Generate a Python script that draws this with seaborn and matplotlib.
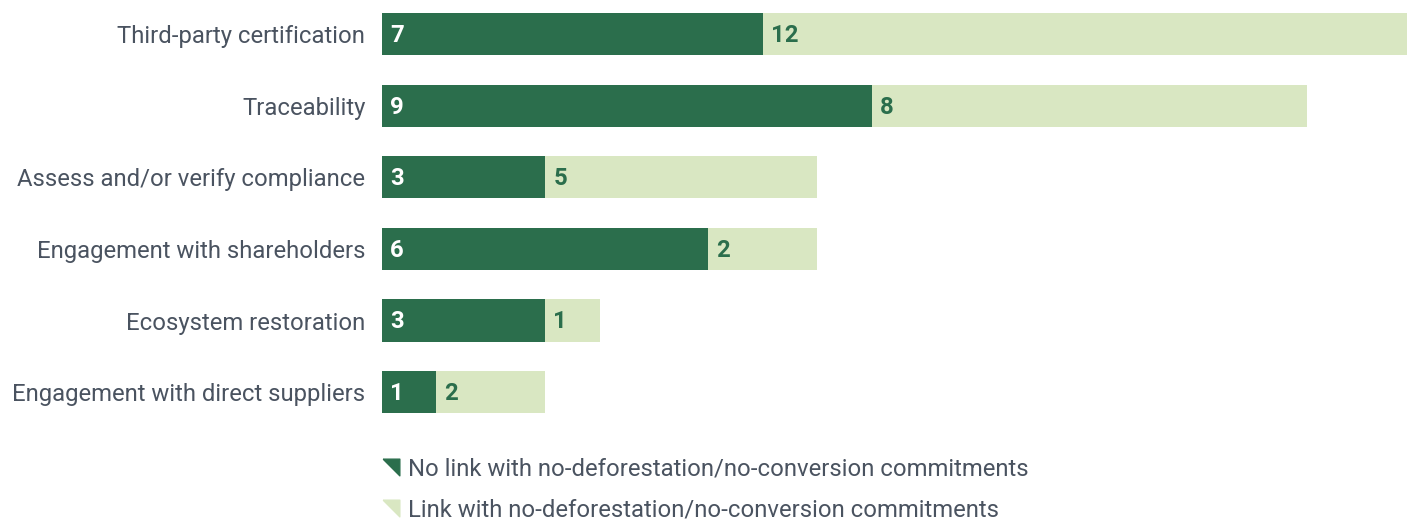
import matplotlib
matplotlib.use("Agg")
import matplotlib.pyplot as plt
from matplotlib.lines import Line2D
import seaborn as sns
import pandas as pd

# data
categories = [
    "Third-party certification",
    "Traceability",
    "Assess and/or verify compliance",
    "Engagement with shareholders",
    "Ecosystem restoration",
    "Engagement with direct suppliers",
]
no_link = [7, 9, 3, 6, 3, 1]
link = [12, 8, 5, 2, 1, 2]
series_names = [
    "No link with no-deforestation/no-conversion commitments",
    "Link with no-deforestation/no-conversion commitments",
]

DARK = "#2b6e4c"
LIGHT = "#d9e7c2"
TEXT = "#4a5360"
FS = 17.2

df = pd.DataFrame({"category": categories, "no_link": no_link, "link": link})
df["total"] = df["no_link"] + df["link"]

sns.set_theme(style="white")
plt.rcParams["font.family"] = ["Roboto", "DejaVu Sans"]

fig = plt.figure(figsize=(14.07, 5.19), dpi=100)
ax = fig.add_axes([382 / 1407, (519 - 428) / 519, 1 - 382 / 1407, 428 / 519])

sns.barplot(data=df, y="category", x="total", color=LIGHT, orient="h",
            width=0.59, ax=ax, saturation=1, linewidth=0)
sns.barplot(data=df, y="category", x="no_link", color=DARK, orient="h",
            width=0.59, ax=ax, saturation=1, linewidth=0)

ax.set_xlim(0, 18.84)
ax.set_ylim(5.5, -0.475)
ax.set_xlabel("")
ax.set_ylabel("")
ax.set_xticks([])
for s in ax.spines.values():
    s.set_visible(False)
ax.tick_params(axis="y", length=0, pad=12, labelsize=FS, labelcolor=TEXT)

pad = 0.15
for i, (a, b) in enumerate(zip(no_link, link)):
    ax.text(pad, i + 0.02, str(a), color="white", fontsize=FS,
            fontweight="bold", va="center", ha="left")
    ax.text(a + pad, i + 0.02, str(b), color=DARK, fontsize=FS,
            fontweight="bold", va="center", ha="left")

tri = [(-1, 1), (1, 1), (1, -1), (-1, 1)]
handles = [
    Line2D([], [], marker=tri, linestyle="none", markersize=12,
           markerfacecolor=c, markeredgecolor=c)
    for c in (DARK, LIGHT)
]
fig.legend(handles, series_names, loc="upper left",
           bbox_to_anchor=(371 / 1407, 1 - 448 / 519), frameon=False,
           fontsize=FS, labelcolor=TEXT, handlelength=0.9,
           handletextpad=0.25, labelspacing=0.74, borderaxespad=0)

fig.savefig("out.png", dpi=100)
